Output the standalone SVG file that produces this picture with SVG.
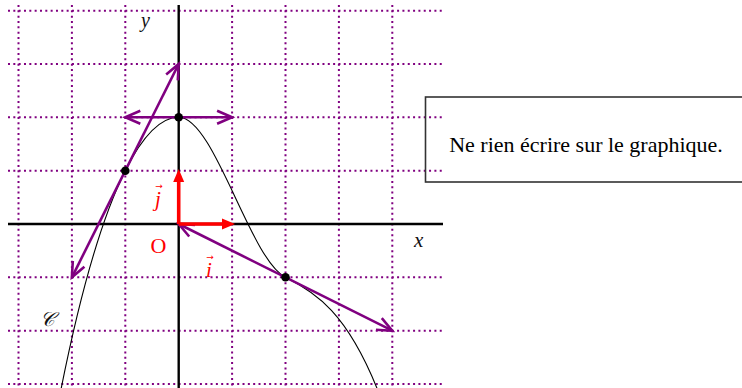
<svg xmlns="http://www.w3.org/2000/svg" width="742" height="388" viewBox="0 0 742 388">
<style>
.grid{stroke:#800080;stroke-width:2;stroke-dasharray:2 3.33;fill:none}
.axis{stroke:#000;stroke-width:2.4;fill:none}
.curve{stroke:#000;stroke-width:1.1;fill:none}
.tan{stroke:#800080;stroke-width:2.6;fill:none;marker-start:url(#open);marker-end:url(#open)}
.vec{stroke:#ff0000;stroke-width:3.6;fill:none;marker-end:url(#tri)}
.pt{fill:#000}
.lbl{font-family:"Liberation Serif","DejaVu Serif",serif;font-style:italic;fill:#111}
.red{font-family:"Liberation Serif","DejaVu Serif",serif;fill:#ff0000}
.vecarrow{font-family:"DejaVu Sans",sans-serif;font-size:9px;font-style:normal}
.note{font-family:"Liberation Serif","Times New Roman",serif;font-size:22px;fill:#000}
</style>
<defs>
<marker id="open" markerUnits="userSpaceOnUse" markerWidth="40" markerHeight="40" viewBox="-20 -20 40 40" refX="0" refY="0" orient="auto-start-reverse" overflow="visible">
<path d="M-15,-6.5 L0,0 L-15,6.5" fill="none" stroke="#800080" stroke-width="2.6" stroke-linejoin="miter"/>
</marker>
<marker id="tri" markerUnits="userSpaceOnUse" markerWidth="40" markerHeight="40" viewBox="-20 -20 40 40" refX="0" refY="0" orient="auto" overflow="visible">
<path d="M-2,-5.5 L11,0 L-2,5.5 z" fill="#ff0000"/>
</marker>
</defs>
<g id="grid">
<path class="grid" d="M8,10.7H442M8,64H442M8,117.3H442M8,170.7H442M8,277.3H442M8,330.7H442M8,384H442"/>
<path class="grid" d="M18.5,5V388M71.9,5V388M125.3,5V388M232.1,5V388M285.5,5V388M338.9,5V388M392.3,5V388"/>
</g>
<g id="axes">
<line class="axis" x1="8" y1="224" x2="443" y2="224"/>
<line class="axis" x1="178.7" y1="5" x2="178.7" y2="388"/>
</g>
<g id="curve">
<path class="curve" d="M61.2,388.3 C82.6,281.6 103.9,213.3 125.3,170.7 C143.1,135.1 160.9,117.3 178.7,117.3 C214.3,117.3 249.9,259.6 285.5,277.3 C316.1,292.6 346.7,312.9 377.4,389.3"/>
</g>
<g id="connectors">
<line class="tan" x1="71.9" y1="277.3" x2="178.7" y2="64"/>
<line class="tan" x1="125.3" y1="117.3" x2="232.1" y2="117.3"/>
<line class="tan" x1="178.7" y1="224" x2="392.3" y2="330.7"/>
<line class="vec" x1="178.7" y1="224" x2="224" y2="224"/>
<line class="vec" x1="178.7" y1="224" x2="178.7" y2="180"/>
</g>
<g id="points">
<circle class="pt" cx="125.3" cy="170.7" r="4.3"/>
<circle class="pt" cx="178.7" cy="117.3" r="4.3"/>
<circle class="pt" cx="285.5" cy="277.3" r="4.3"/>
</g>
<g id="labels">
<text class="lbl" x="141" y="27" font-size="20">y</text>
<text class="lbl" x="414" y="247" font-size="21">x</text>
<text class="red" x="150.5" y="252.5" font-size="22">O</text>
<text class="red" x="155" y="206" font-size="21" font-style="italic">j<tspan class="vecarrow" dx="-5.5" dy="-17.5">→</tspan></text>
<text class="red" x="206" y="277" font-size="21" font-style="italic">i<tspan class="vecarrow" dx="-5.5" dy="-17">→</tspan></text>
<text class="lbl" x="40" y="326" font-size="20" font-family="DejaVu Serif, DejaVu Sans, serif" font-style="normal">&#x1D49E;</text>
</g>
<g id="note">
<rect x="425.5" y="97" width="330" height="85" fill="none" stroke="#333" stroke-width="1.6"/>
<text class="note" x="586" y="151.5" text-anchor="middle">Ne rien écrire sur le graphique.</text>
</g>
</svg>
